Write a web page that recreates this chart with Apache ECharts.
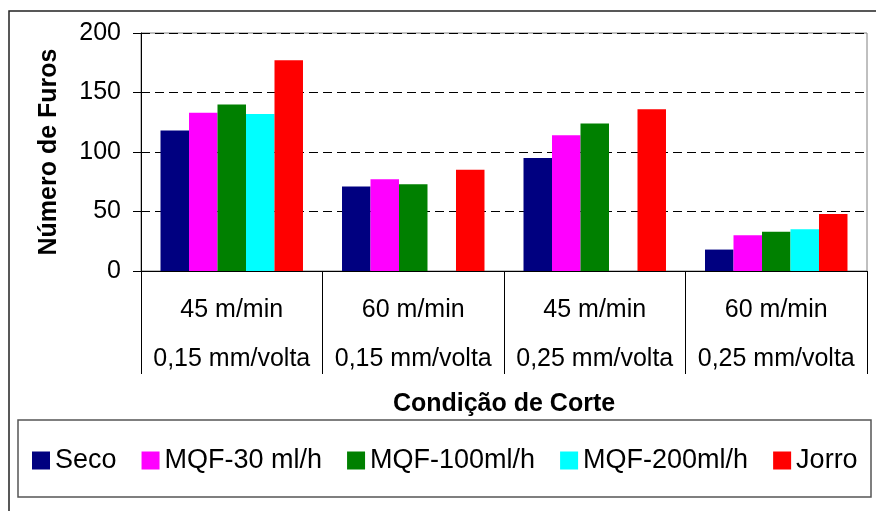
<!DOCTYPE html>
<html>
<head>
<meta charset="utf-8">
<script src="https://cdn.jsdelivr.net/npm/echarts@6/dist/echarts.min.js"></script>
<style>
html,body{margin:0;padding:0;background:#fff;}
#c{width:876px;height:511px;}
</style>
</head>
<body>
<div id="c"></div>
<script>
var categories = ['45 m/min\n0,15 mm/volta', '60 m/min\n0,15 mm/volta', '45 m/min\n0,25 mm/volta', '60 m/min\n0,25 mm/volta'];
var seriesNames = ['Seco', 'MQF-30 ml/h', 'MQF-100ml/h', 'MQF-200ml/h', 'Jorro'];
var seco = [118, 71, 95, 18];
var mqf30 = [133, 77, 114, 30];
var mqf100 = [140, 73, 124, 33];
var mqf200 = [132, null, null, 35];
var jorro = [177, 85, 136, 48];
var yTicks = [0, 50, 100, 150, 200];

var colors = ['#000080', '#FF00FF', '#008000', '#00FFFF', '#FF0000'];
var values = [seco, mqf30, mqf100, mqf200, jorro];
var FONT = '"Liberation Sans", Arial, sans-serif';

var chart = echarts.init(document.getElementById('c'), null, {renderer: 'canvas'});
var series = seriesNames.map(function (n, i) {
  return {
    name: n, type: 'bar', data: values[i],
    barGap: '0%', barCategoryGap: '21.5%',
    itemStyle: {color: colors[i]},
    emphasis: {disabled: true}
  };
});
chart.setOption({
  animation: false,
  backgroundColor: '#fff',
  textStyle: {fontFamily: FONT, color: '#000'},
  graphic: [
    {type: 'rect', shape: {x: 9, y: 11, width: 880, height: 520}, style: {fill: null, stroke: '#222', lineWidth: 1.5}, z: -10},
    {type: 'rect', shape: {x: 18, y: 420, width: 853, height: 77}, style: {fill: null, stroke: '#555', lineWidth: 1.5}, z: -5}
  ],
  grid: {left: 141, top: 33, right: 9, bottom: 240, show: true, borderColor: '#808080', borderWidth: 1, backgroundColor: 'transparent'},
  legend: {
    left: 32, top: 446, padding: 0, itemWidth: 18, itemHeight: 18, itemGap: 25,
    icon: 'rect',
    textStyle: {fontFamily: FONT, fontSize: 27, color: '#000', lineHeight: 29},
    data: seriesNames
  },
  xAxis: {
    type: 'category', data: categories,
    name: 'Condição de Corte', nameLocation: 'middle', nameGap: 121,
    nameTextStyle: {fontFamily: FONT, fontSize: 25, fontWeight: 'bold', color: '#000'},
    axisLine: {lineStyle: {color: '#000', width: 1}},
    axisTick: {show: true, length: 103, lineStyle: {color: '#000', width: 1}},
    axisLabel: {margin: 15, fontFamily: FONT, fontSize: 25, color: '#000', lineHeight: 49, interval: 0}
  },
  yAxis: {
    type: 'value', min: 0, max: 200, interval: 50,
    name: 'Número de Furos', nameLocation: 'middle', nameGap: 79, nameRotate: 90,
    nameTextStyle: {fontFamily: FONT, fontSize: 25, fontWeight: 'bold', color: '#000'},
    axisLine: {show: true, lineStyle: {color: '#000', width: 1}},
    axisTick: {show: true, length: 8, lineStyle: {color: '#000'}},
    axisLabel: {margin: 20, fontFamily: FONT, fontSize: 25, color: '#000',
      formatter: function (v) { return yTicks.indexOf(v) >= 0 ? String(v) : ''; }},
    splitLine: {show: true, lineStyle: {color: '#000', type: [9, 5], width: 1}}
  },
  series: series
});
</script>
</body>
</html>
